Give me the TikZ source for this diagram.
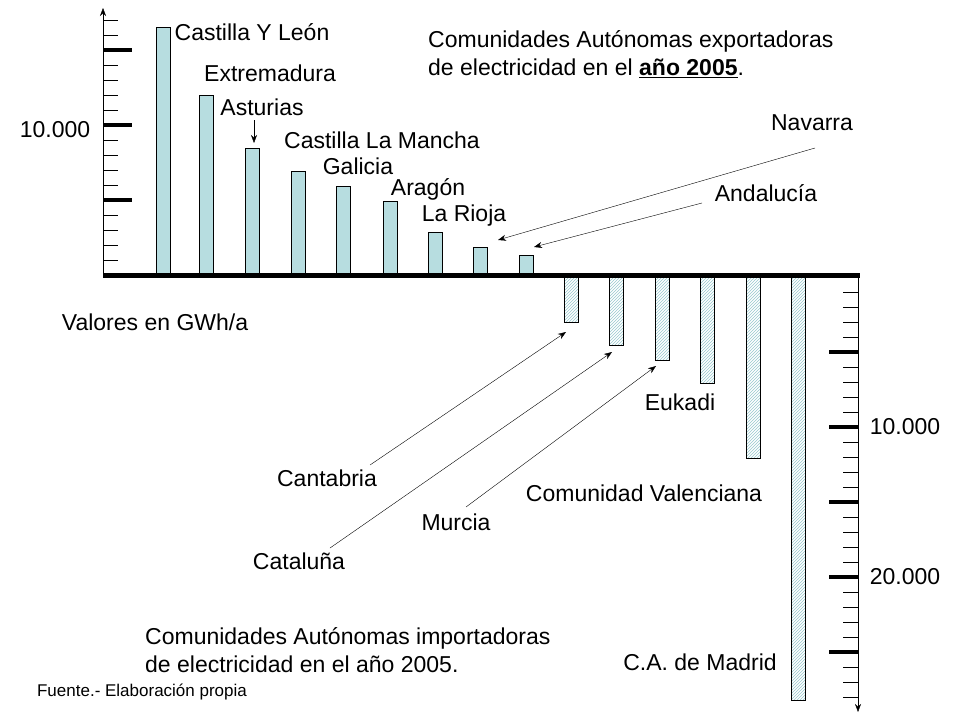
\documentclass[tikz,border=0pt]{standalone}
\usepackage{fontspec}
\setmainfont{Liberation Sans}
\usetikzlibrary{patterns,arrows.meta}
\definecolor{barra}{RGB}{183,221,224}
\definecolor{rayado}{RGB}{150,200,205}
\begin{document}
\begin{tikzpicture}[x=1pt,y=-1pt]
\tikzset{etiq/.style={font=\fontsize{23}{28}\selectfont, inner sep=0pt},
  expo/.style={draw, fill=barra},
  impo/.style={draw, pattern=north east lines, pattern color=rayado},
  flecha/.style={-{Stealth[length=8pt,width=6pt]}}}
\useasboundingbox (0,0) rectangle (960,720);
% ejes
\draw[flecha] (103,275) -- (103,8);
\draw[flecha] (858,275) -- (858,712);
\foreach \y in {20,35,...,260} \draw (103,\y) -- (118,\y);
\foreach \y in {50,125,200} \draw[line width=4pt] (103,\y) -- (132,\y);
\foreach \y in {292,307,...,700} \draw (843,\y) -- (858,\y);
\foreach \y in {352,427,...,652} \draw[line width=4pt] (829,\y) -- (858,\y);
% barras
\foreach \x/\t in {156/27,199/95,245/148,291/171,336/186,383/201,428/232,473/247,519/255}
  \draw[expo] (\x,275) rectangle ++(14,\t-275);
\foreach \x/\b in {564/322,609/345,655/360,700/383,746/458,791/700}
  \draw[impo] (\x,275) rectangle ++(14,\b-275);
\draw[line width=5pt] (103,275) -- (860,275);
% textos
\node[etiq] (cyl) at (252,32) {Castilla Y León};
\node[etiq] (ext) at (270,73) {Extremadura};
\node[etiq] (ast) at (262,107) {Asturias};
\node[etiq] (clm) at (382,140) {Castilla La Mancha};
\node[etiq] (gal) at (358,166) {Galicia};
\node[etiq] (ara) at (428,189) {Aragón};
\node[etiq] (rio) at (464,216) {La Rioja};
\node[etiq] (nav) at (812,123) {Navarra};
\node[etiq] (and) at (766,193) {Andalucía};
\node[etiq, align=left, anchor=west] (tit) at (428,54) {Comunidades Autónomas exportadoras\\de electricidad en el \underline{\textbf{año 2005}}.};
\node[etiq] (v1) at (55,130) {10.000};
\node[etiq] (uni) at (155,322) {Valores en GWh/a};
\node[etiq] (can) at (327,478) {Cantabria};
\node[etiq] (cat) at (299,561) {Cataluña};
\node[etiq] (mur) at (456,522) {Murcia};
\node[etiq] (euk) at (680,402) {Eukadi};
\node[etiq] (val) at (644,493) {Comunidad Valenciana};
\node[etiq] (mad) at (700,662) {C.A. de Madrid};
\node[etiq] (v2) at (905,427) {10.000};
\node[etiq] (v3) at (905,577) {20.000};
\node[etiq, align=left, anchor=west] (tit2) at (145,650) {Comunidades Autónomas importadoras\\de electricidad en el año 2005.};
\node[font=\fontsize{17}{20}\selectfont, inner sep=0pt] (fue) at (142,692) {Fuente.- Elaboración propia};
% flechas
\coordinate (pa) at (254,143);
\coordinate (pn) at (498,240);
\coordinate (pd) at (534,247);
\coordinate (pc) at (566,332);
\coordinate (pt) at (612,352);
\coordinate (pm) at (656,366);
\coordinate (ana) at (254,120);
\coordinate (nna) at (815,148);
\coordinate (anb) at (702,203);
\coordinate (cna) at (370,465);
\coordinate (tna) at (330,548);
\coordinate (mna) at (466,507);
\draw[flecha] (ana) -- (pa);
\draw[flecha] (nna) -- (pn);
\draw[flecha] (anb) -- (pd);
\draw[flecha] (cna) -- (pc);
\draw[flecha] (tna) -- (pt);
\draw[flecha] (mna) -- (pm);
\end{tikzpicture}
\end{document}
